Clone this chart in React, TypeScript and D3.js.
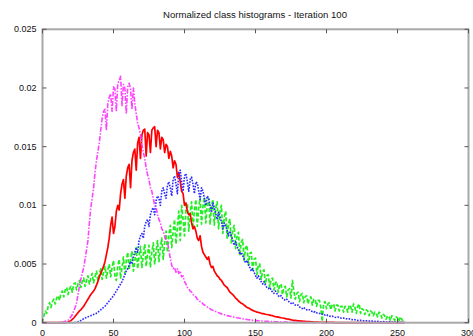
import React from 'react';
import * as d3 from 'd3';

const TITLE = 'Normalized class histograms - Iteration 100';
const X_TICKS = [0, 50, 100, 150, 200, 250, 300];
const X_TICK_LABELS = ['0', '50', '100', '150', '200', '250', '300'];
const Y_TICKS = [0, 0.005, 0.01, 0.015, 0.02, 0.025];
const Y_TICK_LABELS = ['0', '0.005', '0.01', '0.015', '0.02', '0.025'];
const UNIT = 1e-5; // values below are in units of 1e-5

const MAGENTA = [
  0, 0, 0, 0, 0, 0, 0, 0, 0, 0,
  0, 0, 1, 2, 5, 8, 12, 16, 20, 35,
  50, 70, 100, 130, 170, 240, 310, 370, 420, 470,
  540, 620, 700, 850, 980, 1060, 1150, 1280, 1380, 1460,
  1530, 1640, 1740, 1800, 1820, 1640, 1870, 1920, 1950, 1800,
  2010, 1990, 1800, 2040, 2060, 2100, 1850, 2030, 2000, 1780,
  2010, 2040, 1990, 1820, 2000, 1870, 1780, 1700, 1660, 1600,
  1520, 1450, 1400, 1320, 1260, 1220, 1150, 1120, 1060, 1000,
  980, 920, 880, 850, 800, 780, 740, 700, 690, 620,
  550, 490, 460, 470, 430, 460, 420, 440, 390, 400,
  350, 330, 300, 290, 270, 260, 240, 230, 220, 200,
  190, 180, 175, 160, 150, 145, 135, 125, 120, 110,
  105, 100, 95, 90, 85, 80, 75, 72, 68, 64,
  60, 58, 55, 52, 50, 47, 45, 42, 40, 38,
  35, 33, 31, 29, 27, 25, 24, 22, 21, 20,
  19, 18, 17, 16, 15, 14, 13, 12, 12, 11,
  10, 10, 9, 9, 8, 8, 7, 7, 6, 6,
  5, 5, 5, 4, 4, 4, 3, 3, 3, 3,
  2, 2, 2, 2, 2, 1, 1, 1, 1, 1,
  1, 0, 0, 0, 0, 0, 0, 0, 0, 0,
  0, 0, 0, 0, 0, 0, 0, 0, 0, 0,
  0, 0, 0, 0, 0, 0, 0, 0, 0, 0,
  0, 0, 0, 0, 0, 0, 0, 0, 0, 0,
  0, 0, 0, 0, 0, 0, 0, 0, 0, 0,
  0, 0, 0, 0, 0, 0, 0, 0, 0, 0,
  0, 0, 0, 0, 0, 0,
];

const RED = [
  0, 0, 0, 0, 0, 0, 0, 0, 0, 0,
  0, 0, 0, 0, 0, 0, 0, 2, 5, 10,
  18, 28, 40, 55, 70, 85, 100, 110, 125, 140,
  160, 180, 200, 220, 240, 255, 270, 290, 320, 350,
  390, 420, 450, 480, 520, 580, 640, 720, 830, 900,
  760, 820, 950, 1000, 960, 1100, 1180, 1220, 1060, 1250,
  1320, 1350, 1150, 1380, 1450, 1480, 1300, 1530, 1580, 1400,
  1600, 1640, 1650, 1420, 1620, 1600, 1450, 1640, 1660, 1670,
  1500, 1640, 1620, 1480, 1580, 1560, 1450, 1520, 1500, 1400,
  1460, 1420, 1320, 1380, 1350, 1240, 1280, 1200, 1120, 1100,
  1000, 1020, 950, 920, 930, 850, 800, 820, 780, 720,
  700, 740, 650, 600, 580, 560, 540, 560, 500, 470,
  480, 440, 420, 400, 390, 370, 360, 340, 320, 310,
  300, 280, 260, 250, 240, 225, 210, 200, 185, 175,
  165, 160, 150, 140, 130, 125, 120, 110, 105, 100,
  95, 90, 88, 85, 80, 78, 75, 72, 70, 68,
  65, 62, 60, 55, 52, 50, 48, 45, 42, 40,
  38, 35, 32, 30, 28, 25, 22, 20, 20, 18,
  16, 15, 14, 13, 12, 11, 10, 9, 9, 8,
  7, 6, 6, 5, 5, 4, 4, 3, 3, 3,
  2, 2, 2, 2, 2, 2, 1, 1, 1, 1,
  1, 1, 1, 1, 1, 1, 1, 1, 1, 1,
  1, 1, 1, 1, 1, 1, 0, 0, 0, 0,
  0, 0, 0, 0, 0, 0, 0, 0, 0, 0,
  0, 0, 0, 0, 0, 0, 0, 0, 0, 0,
  0, 0, 0, 0, 0, 0,
];

const BLUE = [
  0, 0, 0, 0, 0, 0, 0, 0, 0, 0,
  0, 0, 0, 0, 0, 0, 0, 0, 0, 0,
  0, 0, 0, 2, 5, 8, 12, 18, 25, 35,
  40, 45, 50, 55, 60, 65, 70, 75, 80, 90,
  100, 110, 120, 130, 140, 155, 170, 185, 200, 215,
  230, 250, 270, 290, 310, 330, 350, 380, 410, 440,
  460, 490, 520, 500, 560, 600, 640, 600, 700, 740,
  760, 720, 820, 860, 880, 820, 920, 960, 980, 920,
  1040, 1080, 1060, 1000, 1120, 1150, 1100, 1060, 1170, 1200,
  1150, 1080, 1220, 1250, 1180, 1100, 1280, 1300, 1200, 1120,
  1250, 1270, 1200, 1120, 1220, 1240, 1180, 1100, 1200, 1190,
  1120, 1050, 1150, 1120, 1060, 1000, 1080, 1060, 1000, 940,
  1020, 980, 930, 880, 940, 900, 860, 800, 850, 820,
  790, 740, 780, 740, 700, 660, 690, 650, 620, 580,
  600, 570, 540, 510, 530, 500, 470, 440, 460, 430,
  400, 380, 400, 370, 350, 330, 350, 320, 300, 290,
  300, 280, 260, 250, 270, 250, 230, 220, 230, 210,
  200, 190, 200, 185, 175, 165, 175, 160, 150, 145,
  150, 135, 125, 120, 130, 115, 110, 105, 110, 100,
  95, 90, 95, 85, 80, 78, 82, 72, 68, 65,
  70, 60, 56, 52, 56, 50, 46, 44, 48, 42,
  40, 38, 40, 35, 33, 30, 33, 28, 26, 24,
  26, 22, 20, 19, 21, 18, 17, 16, 17, 15,
  14, 13, 14, 12, 11, 10, 11, 9, 8, 8,
  9, 7, 6, 6, 7, 5, 5, 4, 5, 4,
  3, 3, 3, 2, 2, 2,
];

const GREEN = [
  0, 60, 100, 80, 140, 170, 130, 180, 200, 160,
  210, 230, 190, 250, 270, 220, 280, 300, 240, 290,
  310, 260, 330, 340, 280, 330, 360, 300, 350, 380,
  310, 360, 400, 330, 380, 420, 340, 390, 440, 360,
  410, 460, 370, 430, 480, 380, 450, 500, 390, 470,
  530, 400, 360, 480, 540, 380, 470, 560, 420, 530,
  600, 450, 540, 610, 440, 520, 640, 460, 560, 650,
  470, 580, 670, 480, 590, 660, 470, 600, 680, 500,
  610, 700, 520, 640, 720, 540, 680, 780, 600, 740,
  830, 640, 780, 880, 670, 820, 950, 700, 1000, 880,
  740, 960, 1020, 780, 940, 1030, 800, 960, 1050, 820,
  980, 1060, 840, 990, 1070, 850, 1000, 1060, 840, 990,
  1050, 830, 980, 1030, 800, 950, 1000, 760, 900, 950,
  720, 850, 880, 680, 790, 830, 630, 740, 770, 580,
  690, 710, 530, 640, 660, 490, 590, 600, 450, 540,
  550, 410, 490, 500, 370, 440, 450, 330, 400, 410,
  300, 370, 380, 280, 340, 350, 260, 320, 330, 240,
  300, 310, 220, 280, 290, 210, 360, 270, 200, 250,
  260, 180, 240, 250, 170, 220, 230, 160, 210, 220,
  150, 200, 200, 140, 190, 190, 130, 10, 170, 180,
  120, 160, 170, 110, 150, 160, 100, 150, 150, 100,
  140, 140, 90, 140, 130, 90, 150, 140, 90, 160,
  130, 80, 140, 160, 80, 120, 110, 70, 110, 100,
  60, 100, 90, 60, 90, 80, 50, 90, 80, 40,
  70, 60, 30, 60, 50, 20, 60, 40, 20, 50,
  40, 10, 50, 30, 10, 5,
];

const SERIES = [
  { name: 'green', values: GREEN, color: '#22ee22', dash: '4,2', width: 1.7 },
  { name: 'red', values: RED, color: '#ff0000', dash: null, width: 1.7 },
  { name: 'blue', values: BLUE, color: '#2a2aff', dash: '1.6,1.3', width: 1.6 },
  { name: 'magenta', values: MAGENTA, color: '#ff44ff', dash: '5,1.5,1.5,1.5', width: 1.6 },
];

export default function App() {
  const W = 473;
  const H = 336;
  const left = 42.5, right = 468.5, top = 29.3, bottom = 322.7;
  const x = d3.scaleLinear().domain([0, 300]).range([left, right]);
  const y = d3.scaleLinear().domain([0, 0.025]).range([bottom, top]);
  const line = d3
    .line<number>()
    .x((_, i) => x(i))
    .y((d) => y(d * UNIT));
  const font = '"Liberation Sans", Arial, Helvetica, sans-serif';
  const tickLen = 4;
  return (
    <svg
      width={W}
      height={H}
      style={{ position: 'absolute', left: 0, top: 0, background: '#fff' }}
      fontFamily={font}
    >
      <rect x={0} y={0} width={W} height={H} fill="#fff" />
      <text x={255} y={18.3} fontSize={8.5} textAnchor="middle" fill="#111" textLength={184} lengthAdjust="spacingAndGlyphs">
        {TITLE}
      </text>
      <g>
        {SERIES.map((s) => (
          <path
            key={s.name}
            d={line(s.values) || ''}
            fill="none"
            stroke={s.color}
            strokeWidth={s.width}
            strokeDasharray={s.dash || undefined}
            strokeLinejoin="round"
          />
        ))}
      </g>
      <rect x={left} y={top} width={right - left} height={bottom - top} fill="none" stroke="#a8a8a8" strokeWidth={2} />
      {X_TICKS.map((t, i) => (
        <g key={'x' + t}>
          <line x1={x(t)} x2={x(t)} y1={bottom} y2={bottom - tickLen} stroke="#555" strokeWidth={1} />
          <line x1={x(t)} x2={x(t)} y1={top} y2={top + tickLen} stroke="#555" strokeWidth={1} />
          <text x={x(t)} y={335.5} fontSize={9} textAnchor="middle" fill="#111">
            {X_TICK_LABELS[i]}
          </text>
        </g>
      ))}
      {Y_TICKS.map((t, i) => (
        <g key={'y' + t}>
          <line x1={left} x2={left + tickLen} y1={y(t)} y2={y(t)} stroke="#555" strokeWidth={1} />
          <line x1={right} x2={right - tickLen} y1={y(t)} y2={y(t)} stroke="#555" strokeWidth={1} />
          <text x={36.5} y={y(t) + 3} fontSize={9} textAnchor="end" fill="#111">
            {Y_TICK_LABELS[i]}
          </text>
        </g>
      ))}
    </svg>
  );
}
